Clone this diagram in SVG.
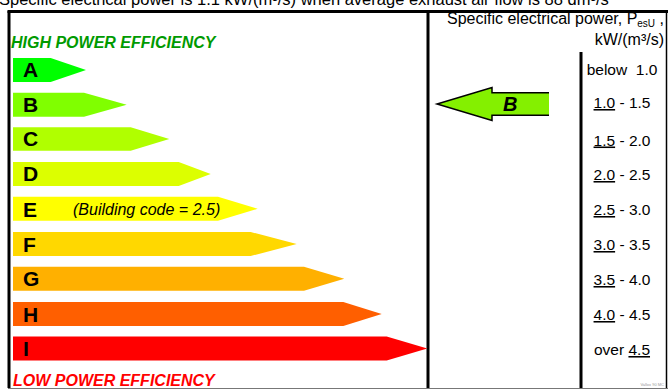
<svg xmlns="http://www.w3.org/2000/svg" width="669" height="389" viewBox="0 0 669 389">
<style>
text{font-family:"Liberation Sans",Arial,sans-serif;fill:#000}
.let{font-size:21px;font-weight:bold}
.rng{font-size:15.5px;text-anchor:middle}
.u{text-decoration:underline}
.frame{stroke:#000;stroke-width:3;fill:none}
</style>
<rect width="669" height="389" fill="#fff"/>
<text x="-1" y="5" font-size="16.5">Specific electrical power is 1.1 kW/(m³/s) when average exhaust air flow is 88 dm³/s</text>
<g id="frame">
<line class="frame" x1="7.5" y1="11.5" x2="668" y2="11.5" stroke-width="2.5"/>
<line class="frame" x1="9" y1="11" x2="9" y2="388"/>
<line class="frame" x1="428" y1="11" x2="428" y2="388"/>
<line class="frame" x1="581" y1="52" x2="581" y2="388"/>
<line x1="666.5" y1="11" x2="666.5" y2="388" stroke="#000" stroke-width="1.5"/>
<line x1="8" y1="388.5" x2="668" y2="388.5" stroke="#777" stroke-width="1"/>
</g>
<text x="11" y="48" font-size="16" font-weight="bold" font-style="italic" style="fill:#009a00">HIGH POWER EFFICIENCY</text>
<text x="13" y="385.5" font-size="16" font-weight="bold" font-style="italic" style="fill:#ff0000">LOW POWER EFFICIENCY</text>
<g id="bar-A"><path d="M13,58H50.7L86,70L50.7,82H13Z" fill="#00ff00"/><text class="let" x="23" y="77">A</text></g>
<g id="bar-B"><path d="M13,92.8H84L126.7,104.8L84,116.8H13Z" fill="#80ff00"/><text class="let" x="23" y="111.7">B</text></g>
<g id="bar-C"><path d="M13,127.2H130.7L169.3,139L130.7,150.8H13Z" fill="#b0ff00"/><text class="let" x="23" y="145.5">C</text></g>
<g id="bar-D"><path d="M13,162H178.7L210.7,174L178.7,186H13Z" fill="#dcff00"/><text class="let" x="23" y="180.5">D</text></g>
<g id="bar-E"><path d="M13,196.8H218L257.7,208.8L218,220.8H13Z" fill="#ffff00"/><text class="let" x="23" y="216.5">E</text>
<text x="73" y="214.5" font-size="16" font-style="italic">(Building code = 2.5)</text></g>
<g id="bar-F"><path d="M13,232H250.7L296.7,244L250.7,256H13Z" fill="#ffd800"/><text class="let" x="23" y="251.5">F</text></g>
<g id="bar-G"><path d="M13,266.8H304L344.3,278.8L304,290.8H13Z" fill="#ffb000"/><text class="let" x="23" y="286.3">G</text></g>
<g id="bar-H"><path d="M13,302H343.3L381.7,314L343.3,326H13Z" fill="#ff5f00"/><text class="let" x="23" y="321.5">H</text></g>
<g id="bar-I"><path d="M13,336.4H386.7L427.3,348.4L386.7,360.4H13Z" fill="#ff0000"/><text class="let" x="23" y="355.8">I</text></g>
<g id="header">
<text x="664" y="24" font-size="16" text-anchor="end">Specific electrical power, P<tspan font-size="10" dy="3">esU</tspan><tspan dy="-3"> ,</tspan></text>
<text x="664" y="45" font-size="16" text-anchor="end">kW/(m³/s)</text>
</g>
<g id="scale">
<text class="rng" x="622" y="75">below&#160;&#160;1.0</text>
<text class="rng" x="622" y="108"><tspan class="u">1.0</tspan> - 1.5</text>
<text class="rng" x="622" y="145.5"><tspan class="u">1.5</tspan> - 2.0</text>
<text class="rng" x="622" y="180"><tspan class="u">2.0</tspan> - 2.5</text>
<text class="rng" x="622" y="215"><tspan class="u">2.5</tspan> - 3.0</text>
<text class="rng" x="622" y="250"><tspan class="u">3.0</tspan> - 3.5</text>
<text class="rng" x="622" y="285"><tspan class="u">3.5</tspan> - 4.0</text>
<text class="rng" x="622" y="320"><tspan class="u">4.0</tspan> - 4.5</text>
<text class="rng" x="622" y="355">over <tspan class="u">4.5</tspan></text>
</g>
<g id="connectors">
<g id="pointer-B">
<polygon points="437,104 492,87.5 492,92.7 549,92.7 549,115.3 492,115.3 492,120.5" fill="#84f000"/>
<polyline points="549,92.7 492,92.7 492,87.5 437,104 492,120.5 492,115.3 549,115.3" fill="none" stroke="#000" stroke-width="1.5"/>
<text x="503" y="110.5" font-size="20" font-weight="bold" font-style="italic">B</text>
</g>
</g>
<text x="664" y="386" font-size="4" text-anchor="end" style="fill:#999">Vallox 90 MC</text>
</svg>
